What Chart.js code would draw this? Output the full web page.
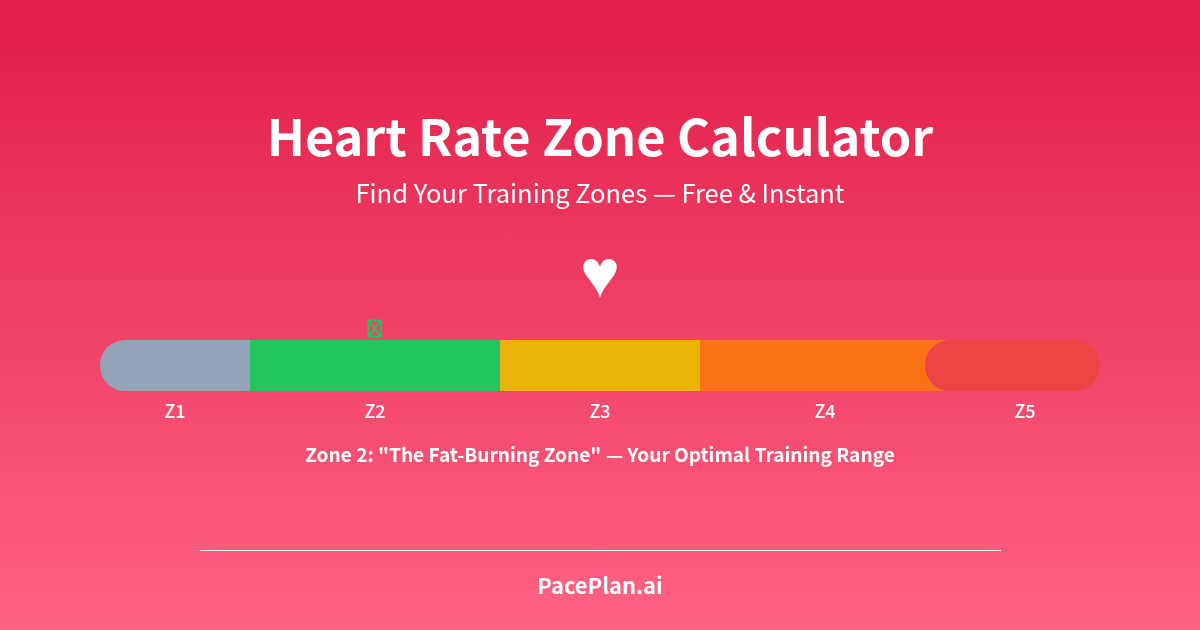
<!DOCTYPE html>
<html>
<head>
<meta charset="utf-8">
<title>Heart Rate Zone Calculator</title>
<script src="https://cdn.jsdelivr.net/npm/chart.js@4"></script>
<style>
    html, body { margin: 0; padding: 0; }
    body { width: 1200px; height: 630px; overflow: hidden; background: linear-gradient(180deg, #e11d48 0%, #ff6384 100%); }
    canvas { display: block; }
</style>
</head>
<body>
<canvas id="zones" width="1200" height="630"></canvas>
<script>
const FONT = '"Noto Sans CJK SC", "Noto Sans", sans-serif';

// ================= DATA =================
const zoneNames = ["Z1", "Z2", "Z3", "Z4", "Z5"];
const zoneStart = [0, 150, 400, 600, 825];
const zoneEnd = [150, 400, 600, 850, 1000];
const zoneColors = ["#94a3b8", "#22c55e", "#eab308", "#f97316", "#ef4444"];
const zoneLabelAt = [75, 275, 500, 725, 925];
const activeZone = 1;

const titleText = "Heart Rate Zone Calculator";
const subtitleText = "Find Your Training Zones — Free & Instant";
const captionText = 'Zone 2: "The Fat-Burning Zone" — Your Optimal Training Range';
const brandText = "PacePlan.ai";

// ================= BARS =================
const radii = [
    { topLeft: 25, bottomLeft: 25 },
    0, 0, 0,
    25
];

const datasets = zoneNames.map((name, i) => ({
    label: name,
    data: [[zoneStart[i], zoneEnd[i]]],
    backgroundColor: zoneColors[i],
    borderRadius: radii[i],
    borderSkipped: false,
    inflateAmount: 0,
    barThickness: 51,
    grouped: false,
    order: zoneNames.length - i   // Z5 has to sit on top of Z4
}));

// ================= EXTRA TEXT =================
const extras = {
    id: "extras",
    afterDraw(chart) {
        const { ctx, scales } = chart;
        const cx = scales.x.getPixelForValue(500);
        ctx.save();
        ctx.textAlign = "center";
        ctx.textBaseline = "middle";

        ctx.fillStyle = "#fff";
        ctx.font = '68px "Liberation Sans"';
        ctx.fillText("♥", cx, 278);

        // marker above the active zone, the glyph is missing in the font so it shows as a box
        const markerX = scales.x.getPixelForValue(zoneLabelAt[activeZone]) - 0.5;
        ctx.fillStyle = zoneColors[activeZone];
        ctx.strokeStyle = zoneColors[activeZone];
        ctx.lineWidth = 1;
        ctx.font = `16.5px ${FONT}`;
        ctx.fillText("\uE000", markerX, 329);
        ctx.strokeText("\uE000", markerX, 329);

        ctx.fillStyle = "#fff";
        ctx.font = `bold 19.1px ${FONT}`;
        ctx.fillText(captionText, cx, 455);

        ctx.strokeStyle = "#fff";
        ctx.lineWidth = 1;
        ctx.beginPath();
        ctx.moveTo(200, 550.5);
        ctx.lineTo(1001, 550.5);
        ctx.stroke();

        ctx.font = `bold 21.9px ${FONT}`;
        ctx.fillText(brandText, cx, 586);
        ctx.restore();
    }
};

// ================= CHART =================
new Chart(document.getElementById("zones"), {
    type: "bar",
    data: { labels: ["Zones"], datasets },
    plugins: [extras],
    options: {
        indexAxis: "y",
        responsive: false,
        animation: false,
        layout: { padding: { left: 100, right: 100, top: 107, bottom: 199 } },
        plugins: {
            legend: { display: false },
            tooltip: { enabled: false },
            title: {
                display: true,
                text: titleText,
                color: "#fff",
                font: { family: FONT, size: 50.5, weight: "bold" },
                padding: { top: 0, bottom: 10 }
            },
            subtitle: {
                display: true,
                text: subtitleText,
                color: "#fff",
                font: { family: FONT, size: 25.5, weight: "normal" },
                padding: { top: 0, bottom: 131.5 }
            }
        },
        scales: {
            x: {
                min: 0,
                max: 1000,
                grid: { display: false, drawTicks: false },
                border: { display: false },
                afterBuildTicks: axis => { axis.ticks = zoneLabelAt.map(value => ({ value })); },
                ticks: {
                    color: "#fff",
                    autoSkip: false,
                    maxRotation: 0,
                    padding: 9,
                    font: { family: FONT, size: 18, weight: "500" },
                    callback: value => zoneNames[zoneLabelAt.indexOf(value)]
                }
            },
            y: { display: false }
        }
    }
});
</script>
</body>
</html>
